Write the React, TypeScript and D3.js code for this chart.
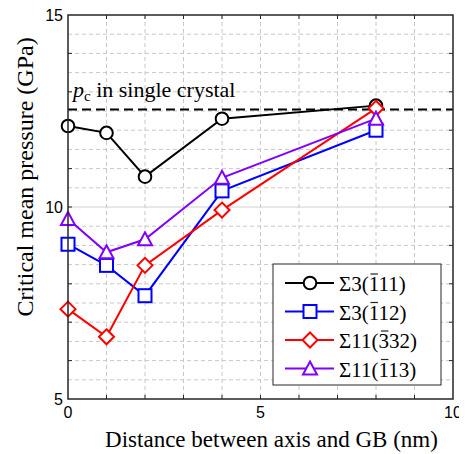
import React from "react";
import * as d3 from "d3";

// distances (nm) between axis and grain boundary
const DIST = [0, 1, 2, 4, 8];
// critical mean pressure (GPa) per grain boundary
const S3_111 = [12.11, 11.93, 10.79, 12.3, 12.64];
const S3_112 = [9.03, 8.48, 7.69, 10.42, 12.0];
const S11_332 = [7.34, 6.62, 8.48, 9.92, 12.57];
const S11_113 = [9.69, 8.82, 9.16, 10.76, 12.3];
const PC_SINGLE = 12.54;

const X_TICKS = [0, 5, 10];
const Y_TICKS = [5, 10, 15];

const SERIES = [
  { pre: "Σ3(", bar: "1", post: "11)", color: "#000000", marker: "circle", values: S3_111 },
  { pre: "Σ3(", bar: "1", post: "12)", color: "#0000ff", marker: "square", values: S3_112 },
  { pre: "Σ11(", bar: "3", post: "32)", color: "#ff0000", marker: "diamond", values: S11_332 },
  { pre: "Σ11(", bar: "1", post: "13)", color: "#8000ff", marker: "triangle", values: S11_113 },
];

const W = 467;
const H = 454;
const margin = { top: 15, right: 14, bottom: 55, left: 68 };

// rough Times advance widths (em) for the legend overline
const EM: Record<string, number> = { "Σ": 0.592, "(": 0.333, ")": 0.333 };
const emWidth = (s: string) => s.split("").reduce((a, c) => a + (EM[c] ?? 0.5), 0);

const CSS = `
.serif { font-family: "Liberation Serif", "Times New Roman", Times, serif; }
.sans { font-family: "Liberation Sans", Arial, sans-serif; }
`;

function Marker({ type, cx, cy, color }: { type: string; cx: number; cy: number; color: string }) {
  const common = { fill: "white", stroke: color, strokeWidth: 2 };
  if (type === "circle") return <circle cx={cx} cy={cy} r={6.3} {...common} />;
  if (type === "square") return <rect x={cx - 6.5} y={cy - 6.5} width={13} height={13} {...common} />;
  if (type === "diamond")
    return <path d={`M${cx},${cy - 7.5}L${cx + 7.5},${cy}L${cx},${cy + 7.5}L${cx - 7.5},${cy}Z`} {...common} />;
  return <path d={`M${cx},${cy - 7}L${cx + 7},${cy + 6}L${cx - 7},${cy + 6}Z`} {...common} />;
}

export default function App() {
  const innerW = W - margin.left - margin.right;
  const innerH = H - margin.top - margin.bottom;
  const x = d3.scaleLinear().domain([0, 10]).range([margin.left, margin.left + innerW]);
  const y = d3.scaleLinear().domain([5, 15]).range([margin.top + innerH, margin.top]);

  const minorX = d3.range(1, 10);
  const minorY = d3.range(5.5, 15, 0.5).filter(d => d !== 10);
  const tickX = d3.range(1, 10);
  const tickY = d3.range(6, 15);
  const line = d3.line<number>().x((_, i) => x(DIST[i])).y(d => y(d));

  const axisColor = "#262626";
  const gridColor = "#c8c8c8";
  const x0 = x(0), x1 = x(10), y0 = y(5), y1 = y(15);

  // legend placement
  const lg = { x: 273, y: 264, w: 168, h: 121 };
  const rowY = (i: number) => 283 + i * 28.5;
  const textX = 339;
  const lgFont = 21;

  return (
    <svg width={W} height={H} style={{ display: "block", margin: "-8px 0 0 -8px" }}>
      <style>{CSS}</style>
      <rect x={0} y={0} width={W} height={H} fill="white" />

      {/* minor dashed grid */}
      {minorX.map(d => (
        <line key={"gx" + d} x1={x(d)} x2={x(d)} y1={y1} y2={y0} stroke={gridColor} strokeWidth={1} strokeDasharray="4,3" />
      ))}
      {minorY.map(d => (
        <line key={"gy" + d} x1={x0} x2={x1} y1={y(d)} y2={y(d)} stroke={gridColor} strokeWidth={1} strokeDasharray="4,3" />
      ))}
      {/* major grid */}
      <line x1={x0} x2={x1} y1={y(10)} y2={y(10)} stroke="#d0d0d0" strokeWidth={1} />

      {/* ticks */}
      {tickX.map(d => (
        <g key={"tx" + d}>
          <line x1={x(d)} x2={x(d)} y1={y0} y2={y0 - 4} stroke={axisColor} strokeWidth={1} />
          <line x1={x(d)} x2={x(d)} y1={y1} y2={y1 + 4} stroke={axisColor} strokeWidth={1} />
        </g>
      ))}
      {tickY.map(d => (
        <g key={"ty" + d}>
          <line x1={x0} x2={x0 + 4} y1={y(d)} y2={y(d)} stroke={axisColor} strokeWidth={1} />
          <line x1={x1} x2={x1 - 4} y1={y(d)} y2={y(d)} stroke={axisColor} strokeWidth={1} />
        </g>
      ))}

      {/* single crystal reference */}
      <line x1={x0} x2={x1} y1={y(PC_SINGLE)} y2={y(PC_SINGLE)} stroke="black" strokeWidth={2} strokeDasharray="9,5" />
      <text className="serif" x={73} y={97} fontSize={22}>
        <tspan fontStyle="italic">p</tspan>
        <tspan fontSize={15} dy={4}>c</tspan>
        <tspan dy={-4}> in single crystal</tspan>
      </text>

      {/* series */}
      {SERIES.map(s => (
        <g key={s.pre + s.bar + s.post}>
          <path d={line(s.values) || ""} fill="none" stroke={s.color} strokeWidth={2} />
          {s.values.map((v, i) => (
            <Marker key={i} type={s.marker} cx={x(DIST[i])} cy={y(v)} color={s.color} />
          ))}
        </g>
      ))}

      {/* axes box */}
      <rect x={x0} y={y1} width={x1 - x0} height={y0 - y1} fill="none" stroke={axisColor} strokeWidth={1.5} />

      {/* tick labels */}
      {X_TICKS.map(d => (
        <text key={"lx" + d} className="sans" x={x(d)} y={y0 + 19} textAnchor="middle" fontSize={16}>
          {d}
        </text>
      ))}
      {Y_TICKS.map(d => (
        <text key={"ly" + d} className="sans" x={x0 - 5} y={y(d) + 6} textAnchor="end" fontSize={16}>
          {d}
        </text>
      ))}

      {/* axis labels */}
      <text className="serif" x={(x0 + x1) / 2 + 11} y={447} textAnchor="middle" fontSize={23}>
        Distance between axis and GB (nm)
      </text>
      <text
        className="serif"
        transform={`translate(33,${(y0 + y1) / 2 - 30}) rotate(-90)`}
        textAnchor="middle"
        fontSize={24}
      >
        Critical mean pressure (GPa)
      </text>

      {/* legend */}
      <rect x={lg.x} y={lg.y} width={lg.w} height={lg.h} fill="white" stroke={axisColor} strokeWidth={1} />
      {SERIES.map((s, i) => {
        const bx = textX + emWidth(s.pre) * lgFont;
        const bw = emWidth(s.bar) * lgFont;
        return (
          <g key={"lg" + i}>
            <line x1={285} x2={334} y1={rowY(i)} y2={rowY(i)} stroke={s.color} strokeWidth={2} />
            <Marker type={s.marker} cx={310} cy={rowY(i)} color={s.color} />
            <text className="serif" x={textX} y={rowY(i) + 8} fontSize={lgFont}>
              {s.pre + s.bar + s.post}
            </text>
            <line x1={bx + 1.5} x2={bx + bw - 1.5} y1={rowY(i) - 9} y2={rowY(i) - 9} stroke="#222" strokeWidth={1.2} />
          </g>
        );
      })}
    </svg>
  );
}
